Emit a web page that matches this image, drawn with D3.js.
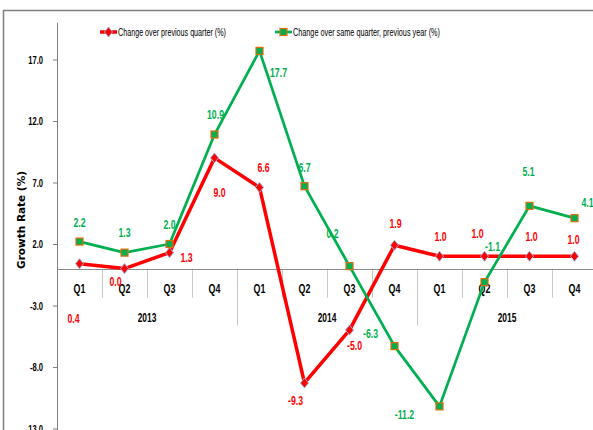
<!DOCTYPE html>
<html>
<head>
<meta charset="utf-8">
<script src="https://cdnjs.cloudflare.com/ajax/libs/d3/7.8.5/d3.min.js"></script>
<style>
  html, body { margin: 0; padding: 0; background: #fff; overflow: hidden; }
  svg { display: block; font-family: "Liberation Sans", Arial, sans-serif; }
</style>
</head>
<body>
<div id="chart"></div>
<script>
(function () {
  'use strict';

  var years = ["2013", "2014", "2015"];
  var quarters = ["Q1", "Q2", "Q3", "Q4"];
  var qoq = [0.4, 0.0, 1.3, 9.0, 6.6, -9.3, -5.0, 1.9, 1.0, 1.0, 1.0, 1.0];
  var yoy = [2.2, 1.3, 2.0, 10.9, 17.7, 6.7, 0.2, -6.3, -11.2, -1.1, 5.1, 4.1];
  var yTicks = [-13, -8, -3, 2, 7, 12, 17];
  var seriesNames = ["Change over previous quarter (%)", "Change over same quarter, previous year  (%)"];

  // label nudges (px) so the data labels sit where the original put them
  var qoqNudge = [[-6, 55], [-9, 13], [17, 5], [5, 35], [4, -20], [-9, 18], [5, 16], [1, -22], [1, -20], [-7, -23], [2, -20], [-1, -17]];
  var yoyNudge = [[0, -19], [0, -20], [0, -19], [1, -20], [19, 22], [0, -19], [-17, -33], [-24, -12], [-35, 8], [8, -36], [-1, -34], [13, -16]];

  var width = 593, height = 430;
  var red = "#ff0000", green = "#00b050";
  var narrow = 0.7; // the original font is tall and narrow (Calibri-like)

  var cats = [];
  years.forEach(function (yr) {
    quarters.forEach(function (q) { cats.push(yr + "-" + q); });
  });

  // squeeze text horizontally around its anchor point
  function squeeze(sel, k) {
    sel.each(function () {
      var t = d3.select(this);
      var tx = +t.attr("x") || 0, ty = +t.attr("y") || 0;
      t.attr("transform", "translate(" + tx + "," + ty + ") scale(" + k + ",1)")
        .attr("x", 0).attr("y", 0);
    });
  }

  var svg = d3.select("#chart").append("svg")
      .attr("width", width)
      .attr("height", height);

  // outer chart frame
  svg.append("rect")
    .attr("x", 3.5).attr("y", 10.5)
    .attr("width", 640).attr("height", 460)
    .attr("fill", "none")
    .attr("stroke", "#7f7f7f")
    .attr("stroke-width", 1.5);

  var x = d3.scaleBand().domain(cats).range([57, 597]).paddingInner(0).paddingOuter(0);
  var y = d3.scaleLinear().domain([-13, 17]).range([428.5, 59.5]);
  var y0 = y(0);

  // y axis
  var yAxis = svg.append("g")
    .attr("transform", "translate(57,0)")
    .call(d3.axisLeft(y).tickValues(yTicks).tickSize(4).tickPadding(10)
      .tickFormat(function (d) { return d.toFixed(1); }));
  yAxis.select(".domain").remove();
  yAxis.selectAll(".tick line").attr("stroke", "#808080");
  yAxis.selectAll(".tick text")
    .attr("font-size", 11.5).attr("font-weight", "bold").attr("fill", "#000")
    .attr("font-family", "'Liberation Sans', Arial, sans-serif")
    .call(squeeze, 0.66);
  svg.append("line")
    .attr("x1", 57.5).attr("x2", 57.5)
    .attr("y1", y(20)).attr("y2", height)
    .attr("stroke", "#808080");

  svg.append("text")
    .attr("transform", "translate(25," + 220 + ") rotate(-90)")
    .attr("text-anchor", "middle")
    .attr("font-family", "'DejaVu Sans', sans-serif")
    .attr("font-weight", "bold")
    .attr("font-size", 10.5)
    .text("Growth Rate (%)");

  // category separators below the zero line
  var bounds = cats.map(function (c) { return x(c); }).concat([x.range()[1]]);
  svg.selectAll("line.sep")
    .data(bounds.slice(1))
    .enter().append("line")
      .attr("class", "sep")
      .attr("x1", function (d) { return Math.round(d) + 0.5; })
      .attr("x2", function (d) { return Math.round(d) + 0.5; })
      .attr("y1", y0)
      .attr("y2", function (d, i) { return (i + 1) % 4 === 0 ? y0 + 57 : y0 + 29; })
      .attr("stroke", "#c8c8c8");

  svg.append("line")
    .attr("x1", 57).attr("x2", width)
    .attr("y1", Math.round(y0) + 0.5).attr("y2", Math.round(y0) + 0.5)
    .attr("stroke", "#8c8c8c");

  svg.selectAll("text.q")
    .data(cats)
    .enter().append("text")
      .attr("class", "q")
      .attr("x", function (d) { return x(d) + x.bandwidth() / 2; })
      .attr("y", y0 + 24)
      .attr("text-anchor", "middle")
      .attr("font-size", 12).attr("font-weight", "bold")
      .text(function (d) { return d.split("-")[1]; })
      .call(squeeze, 0.74);

  svg.selectAll("text.yr")
    .data(years)
    .enter().append("text")
      .attr("class", "yr")
      .attr("x", function (d) { return (x(d + "-Q1") + x(d + "-Q4") + x.bandwidth()) / 2; })
      .attr("y", y0 + 53)
      .attr("text-anchor", "middle")
      .attr("font-size", 12).attr("font-weight", "bold")
      .text(function (d) { return d; })
      .call(squeeze, narrow);

  var cx = function (d, i) { return x(cats[i]) + x.bandwidth() / 2; };
  var line = d3.line().x(cx).y(function (d) { return y(d); });

  function diamond(sel) {
    sel.attr("d", "M0,-5L4,0L0,5L-4,0Z")
      .attr("fill", red)
      .attr("stroke", "#95b3d7")
      .attr("stroke-width", 1);
  }
  function square(sel) {
    sel.attr("x", -3.5).attr("y", -3.5).attr("width", 7).attr("height", 7)
      .attr("fill", green)
      .attr("stroke", "#e46c0a")
      .attr("stroke-width", 1.2);
  }

  // red series
  svg.append("path").datum(qoq)
    .attr("d", line)
    .attr("fill", "none")
    .attr("stroke", red)
    .attr("stroke-width", 3.5)
    .attr("stroke-linejoin", "round");

  // green series
  svg.append("path").datum(yoy)
    .attr("d", line)
    .attr("fill", "none")
    .attr("stroke", green)
    .attr("stroke-width", 2.75)
    .attr("stroke-linejoin", "round");

  svg.selectAll("path.mk1")
    .data(qoq)
    .enter().append("path")
      .attr("class", "mk1")
      .attr("transform", function (d, i) { return "translate(" + cx(d, i) + "," + y(d) + ")"; })
      .call(diamond);

  svg.selectAll("rect.mk2")
    .data(yoy)
    .enter().append("rect")
      .attr("class", "mk2")
      .attr("transform", function (d, i) { return "translate(" + cx(d, i) + "," + y(d) + ")"; })
      .call(square);

  // data labels
  function labels(data, nudge, color, cls) {
    svg.selectAll("text." + cls)
      .data(data)
      .enter().append("text")
        .attr("class", cls)
        .attr("x", function (d, i) { return cx(d, i) + nudge[i][0]; })
        .attr("y", function (d, i) { return y(d) + nudge[i][1]; })
        .attr("dy", "0.35em")
        .attr("text-anchor", "middle")
        .attr("font-size", 12.5).attr("font-weight", "bold")
        .attr("fill", color)
        .text(function (d) { return d.toFixed(1); })
        .call(squeeze, narrow);
  }
  labels(qoq, qoqNudge, red, "lb1");
  labels(yoy, yoyNudge, green, "lb2");

  // legend
  var legend = svg.append("g");
  var items = [{ x: 100, color: red, name: seriesNames[0], mk: "d", w: 108 },
               { x: 275, color: green, name: seriesNames[1], mk: "s", w: 147 }];
  items.forEach(function (it) {
    var g = legend.append("g").attr("transform", "translate(" + it.x + ",32)");
    g.append("line").attr("x1", 0).attr("x2", 17)
      .attr("stroke", it.color).attr("stroke-width", it.mk === "d" ? 3.5 : 2.75);
    if (it.mk === "d") {
      g.append("path").attr("transform", "translate(8.5,0)").call(diamond);
    } else {
      g.append("rect").attr("transform", "translate(8.5,0)").call(square);
    }
    g.append("text")
      .attr("x", 18).attr("dy", "0.35em")
      .attr("font-size", 10)
      .attr("fill", "#000")
      .attr("textLength", it.w)
      .attr("lengthAdjust", "spacingAndGlyphs")
      .text(it.name);
  });
}());
</script>
</body>
</html>
